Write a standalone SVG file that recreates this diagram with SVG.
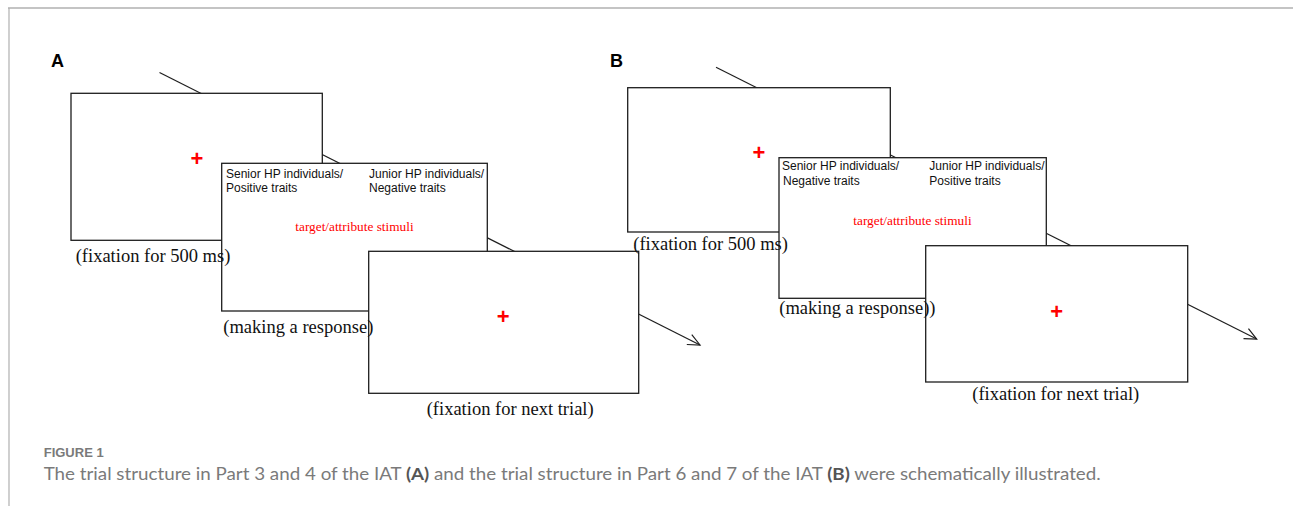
<svg xmlns="http://www.w3.org/2000/svg" width="1293" height="506" viewBox="0 0 1293 506">
<style>
.box{fill:#fff;stroke:#1e1e1e;stroke-width:1.3}
.conn{stroke:#1e1e1e;stroke-width:1.2;fill:none}
.lab{font-family:"Liberation Serif","Times New Roman",serif;font-size:18.5px;fill:#111}
.cat{font-family:"Liberation Sans",Arial,sans-serif;font-size:12px;fill:#111}
.stim{font-family:"Liberation Serif","Times New Roman",serif;font-size:13.3px;fill:#ff0000}
.cross{font-family:"Liberation Sans",Arial,sans-serif;font-size:22px;font-weight:bold;fill:#ff0000;text-anchor:middle}
.panel{font-family:"Liberation Sans",Arial,sans-serif;font-size:18px;font-weight:bold;fill:#000}
.fig{font-family:"Liberation Sans",Arial,sans-serif;font-size:13px;font-weight:bold;fill:#7a7a7a}
.cap{font-family:Lato,"Liberation Sans",Arial,sans-serif;font-size:17px;fill:#7a7a7a}
</style>
<defs>
<marker id="arr" markerUnits="userSpaceOnUse" markerWidth="20" markerHeight="20" refX="14" refY="8" orient="auto" overflow="visible">
<path d="M2,2.5 L14,8 L2,13.5" fill="none" stroke="#1e1e1e" stroke-width="1.2"/>
</marker>
</defs>
<rect width="1293" height="506" fill="#fff"/>
<g id="frame">
<line x1="8" y1="8" x2="1293" y2="8" stroke="#b0b0b0" stroke-width="1.5"/>
<line x1="9" y1="8" x2="9" y2="506" stroke="#b0b0b0" stroke-width="1.2"/>
</g>
<g id="connectors">
<line class="conn" x1="159.5" y1="72.5" x2="700" y2="345" marker-end="url(#arr)"/>
<line class="conn" x1="716" y1="67.3" x2="1256.7" y2="339" marker-end="url(#arr)"/>
</g>
<text class="panel" x="51" y="67">A</text>
<text class="panel" x="610" y="67">B</text>
<g id="a-fixation">
<rect class="box" x="71" y="93.3" width="251.3" height="147"/>
<text class="cross" x="197" y="165.5">+</text>
</g>
<g id="a-response">
<rect class="box" x="221.7" y="163.3" width="265.6" height="147.7"/>
<text class="cat" x="226" y="177.5">Senior HP individuals/</text>
<text class="cat" x="226" y="192">Positive traits</text>
<text class="cat" x="369" y="177.5">Junior HP individuals/</text>
<text class="cat" x="369" y="192">Negative traits</text>
<text class="stim" x="295.3" y="230.5">target/attribute stimuli</text>
</g>
<g id="a-next">
<rect class="box" x="368.7" y="251.3" width="270" height="142"/>
<text class="cross" x="503.3" y="323.5">+</text>
</g>
<g id="b-fixation">
<rect class="box" x="627.7" y="87.7" width="262.6" height="144.3"/>
<text class="cross" x="759" y="160">+</text>
</g>
<g id="b-response">
<rect class="box" x="779" y="157.7" width="267.3" height="140.6"/>
<text class="cat" x="782" y="169.5">Senior HP individuals/</text>
<text class="cat" x="783" y="184.5">Negative traits</text>
<text class="cat" x="929.3" y="169.5">Junior HP individuals/</text>
<text class="cat" x="929.3" y="184.5"> Positive traits</text>
<text class="stim" x="853.3" y="225">target/attribute stimuli</text>
</g>
<g id="b-next">
<rect class="box" x="925.7" y="245.7" width="262" height="136.3"/>
<text class="cross" x="1056.7" y="318.5">+</text>
</g>
<g id="labels">
<text class="lab" x="75.7" y="262">(fixation for 500 ms)</text>
<text class="lab" x="223.3" y="332.5">(making a response)</text>
<text class="lab" x="426.7" y="415">(fixation for next trial)</text>
<text class="lab" x="633.3" y="249.5">(fixation for 500 ms)</text>
<text class="lab" x="779.3" y="314">(making a response))</text>
<text class="lab" x="972.3" y="400">(fixation for next trial)</text>
</g>
<g id="caption">
<text class="fig" x="43.7" y="457.3">FIGURE 1</text>
<text class="cap" x="43.7" y="480" textLength="1057" lengthAdjust="spacingAndGlyphs">The trial structure in Part 3 and 4 of the IAT <tspan font-weight="bold" fill="#555">(A)</tspan> and the trial structure in Part 6 and 7 of the IAT <tspan font-weight="bold" fill="#555">(B)</tspan> were schematically illustrated.</text>
</g>
</svg>
